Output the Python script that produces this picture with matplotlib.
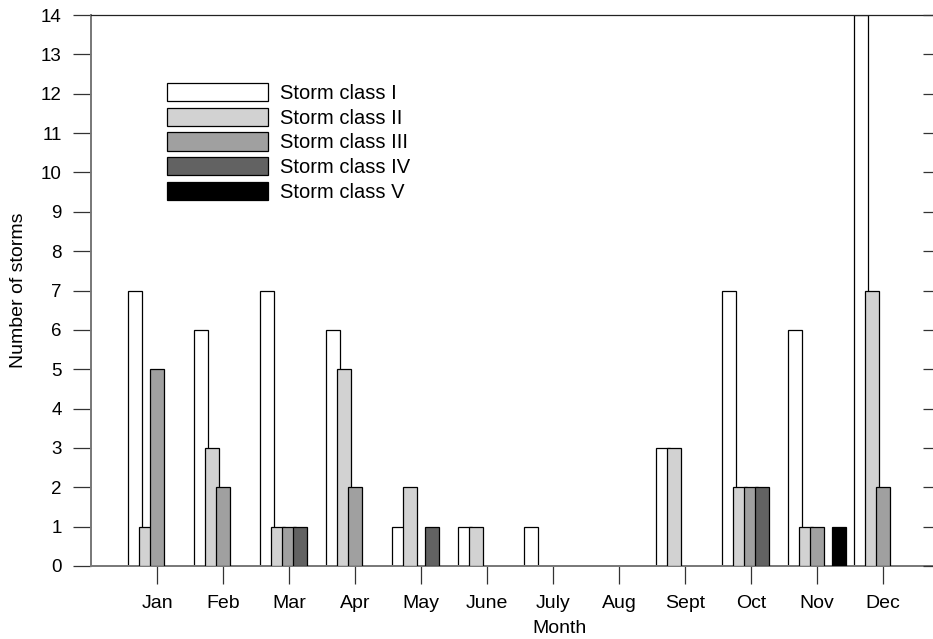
import numpy as np
import matplotlib
matplotlib.use("Agg")
from matplotlib import pyplot as plt
from matplotlib.patches import Patch

plt.rcParams['font.family'] = ['Liberation Sans', 'DejaVu Sans']

months = ['Jan', 'Feb', 'Mar', 'Apr', 'May', 'June', 'July', 'Aug', 'Sept', 'Oct', 'Nov', 'Dec']
class_names = ['Storm class I', 'Storm class II', 'Storm class III', 'Storm class IV', 'Storm class V']

class1 = [7, 6, 7, 6, 1, 1, 1, 0, 3, 7, 6, 14]
class2 = [1, 3, 1, 5, 2, 1, 0, 0, 3, 2, 1, 7]
class3 = [5, 2, 1, 2, 0, 0, 0, 0, 0, 2, 1, 2]
class4 = [0, 0, 1, 0, 1, 0, 0, 0, 0, 2, 0, 0]
class5 = [0, 0, 0, 0, 0, 0, 0, 0, 0, 0, 1, 0]

colors = ['#ffffff', '#d2d2d2', '#a0a0a0', '#626262', '#000000']

fig = plt.figure(figsize=(9.33, 6.39), dpi=100)
ax = fig.add_axes([91/933, 1 - 566/639, (932.5 - 91)/933, (566 - 15)/639])

x = np.arange(1, 13)
series = [class1, class2, class3, class4, class5]
for k, vals in enumerate(series):
    xs = x + (k - 2) / 6.0
    vals = np.array(vals)
    mask = vals > 0
    ax.bar(xs[mask], vals[mask], width=0.212, color=colors[k],
           edgecolor='black', linewidth=0.9, zorder=2 + k)

ax.set_xlim(-0.005, 12.75)
ax.set_ylim(0, 14)
ax.set_xticks(x)
ax.set_xticklabels(months, fontsize=14)
ax.set_yticks(range(0, 15))
ax.tick_params(axis='x', direction='out', length=13, width=0.9, pad=8, color='#333333')
ax.tick_params(axis='y', direction='out', length=13, width=0.9, pad=8, labelsize=13.5, color='#333333')

for side in ['left', 'bottom']:
    ax.spines[side].set_color('#777777')
    ax.spines[side].set_linewidth(1.4)
ax.spines['top'].set_color('#222222')
ax.spines['top'].set_linewidth(0.9)
ax.spines['right'].set_visible(False)

# right-hand ticks, pointing inwards
ax2 = ax.twinx()
ax2.set_ylim(0, 14)
ax2.set_yticks(range(0, 15))
ax2.tick_params(axis='y', direction='in', length=7.2, width=0.9, labelright=False, color='#333333')
for s in ax2.spines.values():
    s.set_visible(False)

ax.set_xlabel('Month', fontsize=14, va='top')
ax.xaxis.set_label_coords((560 - 91) / 842, (566 - 620) / 551)
ax.set_ylabel('Number of storms', fontsize=14)
ax.yaxis.set_label_coords((27 - 91) / 842, 0.5)

handles = [Patch(facecolor=c, edgecolor='black', linewidth=0.9) for c in colors]
fig.legend(handles, class_names, loc='upper left', fontsize=14.5, frameon=False,
           bbox_to_anchor=(166.7 / 933, 1 - 83 / 639), bbox_transform=fig.transFigure,
           borderpad=0, borderaxespad=0, handlelength=5.05, handleheight=1.0,
           labelspacing=0.24, handletextpad=0.6)

fig.savefig('out.png', dpi=100)
